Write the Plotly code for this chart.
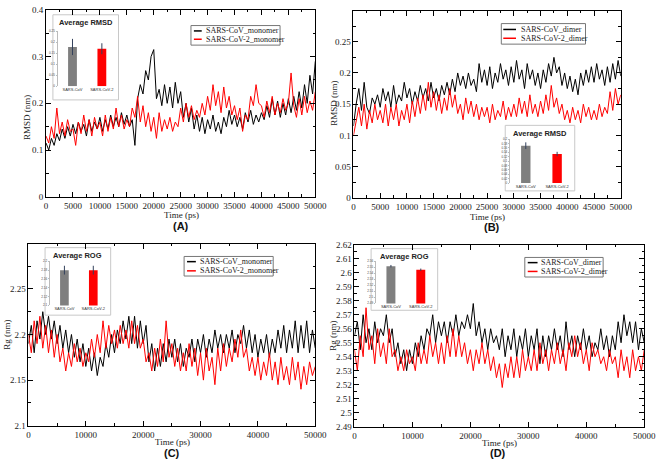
import numpy as np
import plotly.graph_objects as go

# ---------------- data (500 ps steps) ----------------
rmsd_mono_cov = [0.115,0.100,0.125,0.110,0.135,0.120,0.145,0.125,0.150,0.130,
                 0.155,0.135,0.160,0.140,0.155,0.130,0.165,0.140,0.160,0.145,
                 0.170,0.140,0.165,0.145,0.175,0.150,0.170,0.150,0.180,0.155,
                 0.175,0.150,0.165,0.110,0.210,0.240,0.220,0.270,0.250,0.300,
                 0.315,0.210,0.230,0.195,0.240,0.200,0.235,0.190,0.245,0.200,
                 0.225,0.170,0.200,0.160,0.190,0.145,0.175,0.140,0.170,0.135,
                 0.165,0.145,0.175,0.140,0.160,0.135,0.170,0.150,0.185,0.155,
                 0.175,0.150,0.170,0.145,0.180,0.160,0.185,0.155,0.175,0.160,
                 0.180,0.165,0.195,0.170,0.210,0.175,0.205,0.170,0.200,0.175,
                 0.210,0.180,0.215,0.185,0.225,0.190,0.240,0.200,0.260,0.220,
                 0.290]
rmsd_mono_cov2 = [0.130,0.115,0.150,0.125,0.190,0.135,0.160,0.130,0.165,0.140,
                  0.145,0.110,0.160,0.135,0.175,0.140,0.165,0.130,0.170,0.145,
                  0.160,0.130,0.175,0.140,0.170,0.145,0.190,0.150,0.175,0.145,
                  0.165,0.150,0.190,0.170,0.215,0.160,0.195,0.150,0.180,0.140,
                  0.170,0.125,0.180,0.140,0.165,0.145,0.170,0.140,0.160,0.150,
                  0.190,0.160,0.200,0.170,0.195,0.165,0.185,0.170,0.200,0.175,
                  0.215,0.185,0.240,0.195,0.225,0.180,0.235,0.190,0.215,0.175,
                  0.195,0.165,0.190,0.140,0.175,0.165,0.215,0.195,0.240,0.200,
                  0.195,0.170,0.205,0.180,0.215,0.175,0.200,0.180,0.210,0.185,
                  0.200,0.265,0.195,0.170,0.210,0.175,0.215,0.180,0.205,0.185,
                  0.225]
rmsd_dim_cov = [0.115,0.150,0.175,0.140,0.185,0.145,0.135,0.160,0.150,0.165,
                0.145,0.175,0.155,0.170,0.145,0.180,0.150,0.165,0.155,0.185,
                0.160,0.175,0.150,0.170,0.155,0.180,0.160,0.175,0.155,0.185,
                0.160,0.175,0.155,0.180,0.165,0.185,0.165,0.190,0.170,0.200,
                0.180,0.195,0.175,0.200,0.180,0.190,0.170,0.215,0.185,0.205,
                0.180,0.210,0.175,0.200,0.185,0.215,0.190,0.205,0.180,0.210,
                0.185,0.220,0.190,0.205,0.175,0.215,0.190,0.205,0.180,0.200,
                0.175,0.205,0.185,0.215,0.195,0.225,0.200,0.210,0.180,0.200,
                0.175,0.195,0.170,0.190,0.165,0.200,0.180,0.205,0.185,0.210,
                0.185,0.215,0.190,0.205,0.180,0.210,0.185,0.215,0.190,0.220,
                0.195]
rmsd_dim_cov2 = [0.100,0.125,0.145,0.115,0.150,0.110,0.140,0.120,0.150,0.125,
                 0.140,0.120,0.150,0.115,0.145,0.125,0.150,0.115,0.140,0.125,
                 0.150,0.120,0.155,0.130,0.160,0.135,0.165,0.140,0.185,0.145,
                 0.170,0.140,0.165,0.135,0.160,0.140,0.175,0.145,0.165,0.135,
                 0.150,0.125,0.160,0.135,0.155,0.130,0.150,0.125,0.145,0.130,
                 0.145,0.120,0.150,0.125,0.140,0.130,0.155,0.125,0.145,0.130,
                 0.150,0.130,0.160,0.135,0.155,0.130,0.165,0.135,0.150,0.130,
                 0.155,0.135,0.165,0.140,0.180,0.145,0.160,0.135,0.150,0.125,
                 0.140,0.120,0.145,0.125,0.140,0.120,0.150,0.130,0.145,0.125,
                 0.140,0.125,0.150,0.130,0.145,0.135,0.170,0.140,0.175,0.150,
                 0.165]
rg_mono_cov = [2.190,2.210,2.180,2.215,2.195,2.225,2.200,2.220,2.195,2.215,
               2.190,2.210,2.185,2.205,2.180,2.200,2.175,2.195,2.170,2.190,
               2.165,2.185,2.160,2.180,2.155,2.175,2.165,2.190,2.175,2.200,
               2.180,2.205,2.190,2.215,2.195,2.220,2.190,2.220,2.185,2.215,
               2.190,2.210,2.170,2.190,2.160,2.185,2.165,2.190,2.170,2.195,
               2.175,2.195,2.170,2.190,2.165,2.185,2.175,2.195,2.170,2.195,
               2.180,2.200,2.175,2.195,2.180,2.205,2.185,2.200,2.180,2.200,
               2.185,2.205,2.180,2.200,2.190,2.210,2.185,2.205,2.180,2.200,
               2.175,2.195,2.180,2.200,2.175,2.195,2.180,2.205,2.185,2.210,
               2.180,2.205,2.185,2.215,2.180,2.210,2.185,2.215,2.180,2.205,
               2.185]
rg_mono_cov2 = [2.200,2.180,2.215,2.190,2.220,2.185,2.210,2.180,2.205,2.175,
                2.200,2.170,2.185,2.160,2.180,2.165,2.190,2.170,2.185,2.165,
                2.180,2.170,2.195,2.175,2.200,2.180,2.215,2.185,2.210,2.190,
                2.205,2.185,2.210,2.190,2.205,2.185,2.215,2.190,2.210,2.185,
                2.195,2.170,2.180,2.160,2.185,2.165,2.195,2.170,2.215,2.175,
                2.190,2.165,2.185,2.160,2.180,2.160,2.190,2.165,2.185,2.155,
                2.180,2.150,2.185,2.160,2.175,2.145,2.185,2.160,2.190,2.165,
                2.185,2.170,2.195,2.175,2.205,2.175,2.185,2.160,2.175,2.155,
                2.175,2.150,2.170,2.155,2.180,2.150,2.170,2.145,2.175,2.150,
                2.165,2.145,2.175,2.150,2.170,2.140,2.165,2.145,2.170,2.155,
                2.165]
rg_dim_cov = [2.555,2.565,2.545,2.570,2.550,2.560,2.545,2.565,2.550,2.560,
              2.555,2.570,2.550,2.560,2.540,2.550,2.535,2.545,2.530,2.545,
              2.535,2.550,2.540,2.555,2.545,2.560,2.555,2.570,2.550,2.565,
              2.555,2.565,2.550,2.565,2.555,2.570,2.555,2.565,2.560,2.570,
              2.560,2.578,2.555,2.565,2.550,2.560,2.545,2.560,2.550,2.555,
              2.545,2.560,2.540,2.555,2.545,2.560,2.540,2.555,2.545,2.560,
              2.540,2.555,2.545,2.560,2.535,2.555,2.540,2.555,2.545,2.560,
              2.545,2.555,2.540,2.565,2.545,2.555,2.540,2.555,2.545,2.560,
              2.545,2.555,2.540,2.550,2.545,2.560,2.545,2.555,2.540,2.555,
              2.545,2.565,2.550,2.570,2.555,2.565,2.550,2.565,2.545,2.560,
              2.550]
rg_dim_cov2 = [2.545,2.530,2.555,2.540,2.575,2.545,2.555,2.535,2.560,2.540,
               2.550,2.535,2.560,2.540,2.545,2.530,2.540,2.530,2.545,2.535,
               2.540,2.530,2.550,2.535,2.545,2.535,2.555,2.540,2.550,2.535,
               2.550,2.535,2.555,2.540,2.560,2.540,2.555,2.540,2.550,2.535,
               2.545,2.530,2.545,2.535,2.550,2.535,2.545,2.530,2.540,2.525,
               2.535,2.518,2.535,2.525,2.540,2.525,2.540,2.525,2.545,2.530,
               2.540,2.530,2.545,2.530,2.550,2.535,2.545,2.530,2.545,2.535,
               2.550,2.535,2.545,2.530,2.550,2.540,2.555,2.540,2.550,2.535,
               2.545,2.530,2.550,2.540,2.545,2.535,2.540,2.530,2.545,2.535,
               2.540,2.525,2.545,2.530,2.540,2.525,2.545,2.530,2.540,2.530,
               2.545]

bar_cats = ["SARS-CoV", "SARS-CoV-2"]
avg_rmsd_mono = [0.179, 0.171]; err_rmsd_mono = [0.037, 0.025]
avg_rmsd_dim = [0.170, 0.132]; err_rmsd_dim = [0.015, 0.010]
avg_rg_mono = [2.180, 2.180]; err_rg_mono = [0.010, 0.010]
avg_rg_dim = [2.552, 2.546]; err_rg_dim = [0.002, 0.002]

legend_mono = ["SARS-CoV_monomer", "SARS-CoV-2_monomer"]
legend_dim = ["SARS-CoV_dimer", "SARS-CoV-2_dimer"]
SERIES_COLORS = ["black", "#ff0000"]

W, H = 668, 464
def px(x): return x / W
def py(y): return 1 - y / H

SERIF = "Liberation Serif"
SANS = "Liberation Sans"

fig = go.Figure()

panels = [
    (1, rmsd_mono_cov, rmsd_mono_cov2),
    (2, rmsd_dim_cov, rmsd_dim_cov2),
    (3, rg_mono_cov, rg_mono_cov2),
    (4, rg_dim_cov, rg_dim_cov2),
]
for idx, blk, red in panels:
    t = np.linspace(0, 50000, len(blk))
    xa = "x" if idx == 1 else f"x{idx}"
    ya = "y" if idx == 1 else f"y{idx}"
    fig.add_trace(go.Scatter(x=t, y=blk, mode="lines", showlegend=False,
                             line=dict(color=SERIES_COLORS[0], width=1), xaxis=xa, yaxis=ya))
    fig.add_trace(go.Scatter(x=t, y=red, mode="lines", showlegend=False,
                             line=dict(color=SERIES_COLORS[1], width=1), xaxis=xa, yaxis=ya))

insets = [
    (5, avg_rmsd_mono, err_rmsd_mono),
    (6, avg_rmsd_dim, err_rmsd_dim),
    (7, avg_rg_mono, err_rg_mono),
    (8, avg_rg_dim, err_rg_dim),
]
for idx, vals, errs in insets:
    fig.add_trace(go.Bar(x=bar_cats, y=vals, width=0.3,
                         marker=dict(color=["#7f7f7f", "#ff0000"], line=dict(width=0)),
                         error_y=dict(type="data", array=errs, color="#33415c", thickness=1, width=0),
                         xaxis=f"x{idx}", yaxis=f"y{idx}", showlegend=False))

def main_x(dom, dtick, minor_dtick):
    return dict(domain=dom, range=[0, 50000], dtick=dtick, tick0=0, tickformat="d",
                showline=True, linecolor="black", linewidth=1, mirror="allticks",
                ticks="inside", ticklen=5, tickcolor="black", showgrid=False, zeroline=False,
                tickfont=dict(family=SERIF, size=9, color="#222"),
                minor=dict(ticks="inside", ticklen=2.5, tickcolor="black", dtick=minor_dtick, showgrid=False))

def main_y(dom, rng, dtick, minor_dtick, fmt):
    return dict(domain=dom, range=rng, dtick=dtick, tick0=rng[0], tickformat=fmt,
                showline=True, linecolor="black", linewidth=1, mirror="allticks",
                ticks="inside", ticklen=5, tickcolor="black", showgrid=False, zeroline=False,
                tickfont=dict(family=SERIF, size=9, color="#222"),
                minor=dict(ticks="inside", ticklen=2.5, tickcolor="black", dtick=minor_dtick, showgrid=False))

layout = dict(
    width=W, height=H, margin=dict(l=0, r=0, t=0, b=0),
    paper_bgcolor="white", plot_bgcolor="white", showlegend=False,
    xaxis=main_x([px(45), px(320)], 5000, 2500),
    yaxis=main_y([py(196), py(5)], [0, 0.4], 0.1, 0.05, "~g"),
    xaxis2=main_x([px(359), px(632)], 5000, 2500),
    yaxis2=main_y([py(197), py(6)], [0, 0.2995], 0.05, 0.025, "~g"),
    xaxis3=main_x([px(27), px(320)], 10000, 5000),
    yaxis3=main_y([py(430), py(244)], [2.1, 2.2995], 0.05, 0.025, ".2~f"),
    xaxis4=main_x([px(360), px(656)], 10000, 5000),
    yaxis4=main_y([py(431), py(245)], [2.49, 2.62], 0.01, 0.005, ".2~f"),
)
layout["yaxis"]["anchor"] = "x"; layout["xaxis"]["anchor"] = "y"
layout["yaxis2"]["anchor"] = "x2"; layout["xaxis2"]["anchor"] = "y2"
layout["yaxis3"]["anchor"] = "x3"; layout["xaxis3"]["anchor"] = "y3"
layout["yaxis4"]["anchor"] = "x4"; layout["xaxis4"]["anchor"] = "y4"

# inset geometry: (box x0,x1,y0,y1), plot (x0,x1,y0,y1), y range, dtick, fmt, title
inset_geo = [
    (5, (52, 119, 10, 97), (57, 117, 27, 83), [0, 0.25], 0.05, "~g", "Average RMSD"),
    (6, (514, 585, 123, 190), (519, 583, 137, 182), [0, 0.2], 0.02, "~g", "Average RMSD"),
    (7, (44, 111, 248, 317), (49, 108, 262, 307), [2.1, 2.2], 0.02, ".2~f", "Average ROG"),
    (8, (377, 445, 249, 312), (382, 443, 262, 305), [2.49, 2.56], 0.01, ".2~f", "Average ROG"),
]
shapes = []
annotations = []
for idx, box, pl, yr, dt, fmt, title in inset_geo:
    layout[f"xaxis{idx}"] = dict(domain=[px(pl[0]), px(pl[1])], anchor=f"y{idx}",
                                 range=[-0.5, 1.5], showline=False, ticks="", showgrid=False,
                                 tickfont=dict(family=SANS, size=4, color="#333"))
    layout[f"yaxis{idx}"] = dict(domain=[py(pl[3]), py(pl[2])], anchor=f"x{idx}",
                                 range=yr, dtick=dt, tick0=yr[0], tickformat=fmt,
                                 showline=True, linecolor="#bbbbbb", linewidth=0.5,
                                 ticks="outside", ticklen=1.5, tickcolor="#bbbbbb",
                                 showgrid=False, zeroline=False,
                                 tickfont=dict(family=SANS, size=3, color="#444"))
    shapes.append(dict(type="rect", xref="paper", yref="paper",
                       x0=px(box[0]), x1=px(box[1]), y0=py(box[3]), y1=py(box[2]),
                       fillcolor="white", line=dict(color="#c8c8c8", width=1), layer="below"))
    annotations.append(dict(text=f"<b>{title}</b>", xref="paper", yref="paper",
                            x=px((box[0] + box[1]) / 2), y=py(box[2] + 8),
                            xanchor="center", yanchor="middle", showarrow=False,
                            font=dict(family=SANS, size=7.5, color="#222")))

# axis titles and panel labels
for x, y, txt, ang in [(183, 215, "Time (ps)", 0), (496, 216.5, "Time (ps)", 0),
                       (174, 447, "Time (ps)", 0), (508, 448, "Time (ps)", 0),
                       (25, 115, "RMSD (nm)", -90), (339, 100, "RMSD (nm)", -90),
                       (5, 337, "Rg (nm)", -90), (338, 338, "Rg (nm)", -90)]:
    annotations.append(dict(text=txt, xref="paper", yref="paper", x=px(x), y=py(y),
                            xanchor="center", yanchor="middle",
                            showarrow=False, textangle=ang,
                            font=dict(family=SERIF, size=9, color="#222")))
for x, y, txt in [(183, 226, "(A)"), (500, 227, "(B)"), (174, 457.5, "(C)"), (507, 457.5, "(D)")]:
    annotations.append(dict(text=f"<b>{txt}</b>", xref="paper", yref="paper", x=px(x), y=py(y),
                            xanchor="center", yanchor="middle",
                            showarrow=False, font=dict(family=SANS, size=11, color="#111")))

# hand-built legends: box (x0,x1,y0,y1), row ys, sample line x0,x1, text x
legends = [
    ((193, 284, 21, 41), (26.5, 35), (196, 204), 206, legend_mono),
    ((510, 596, 19, 40), (25, 34), (512, 525), 528, legend_dim),
    ((186, 277, 257, 277), (262.3, 271.7), (189, 198), 200, legend_mono),
    ((534, 614, 258, 278), (263.3, 272.3), (537, 547), 549, legend_dim),
]
for box, rows, samp, tx, names in legends:
    shapes.append(dict(type="rect", xref="paper", yref="paper",
                       x0=px(box[0]), x1=px(box[1]), y0=py(box[3]), y1=py(box[2]),
                       fillcolor="white", line=dict(color="#777", width=1), layer="above"))
    for ry, name, col in zip(rows, names, SERIES_COLORS):
        shapes.append(dict(type="line", xref="paper", yref="paper",
                           x0=px(samp[0]), x1=px(samp[1]), y0=py(ry), y1=py(ry),
                           line=dict(color=col, width=1.5), layer="above"))
        annotations.append(dict(text=name, xref="paper", yref="paper", x=px(tx), y=py(ry),
                                xanchor="left", yanchor="middle", showarrow=False,
                                font=dict(family=SERIF, size=8, color="#222")))

layout["shapes"] = shapes
layout["annotations"] = annotations
fig.update_layout(**layout)
fig.write_html("out.html", config={"displayModeBar": False},
               post_script="document.body.style.margin='0';document.body.style.overflow='hidden';")
